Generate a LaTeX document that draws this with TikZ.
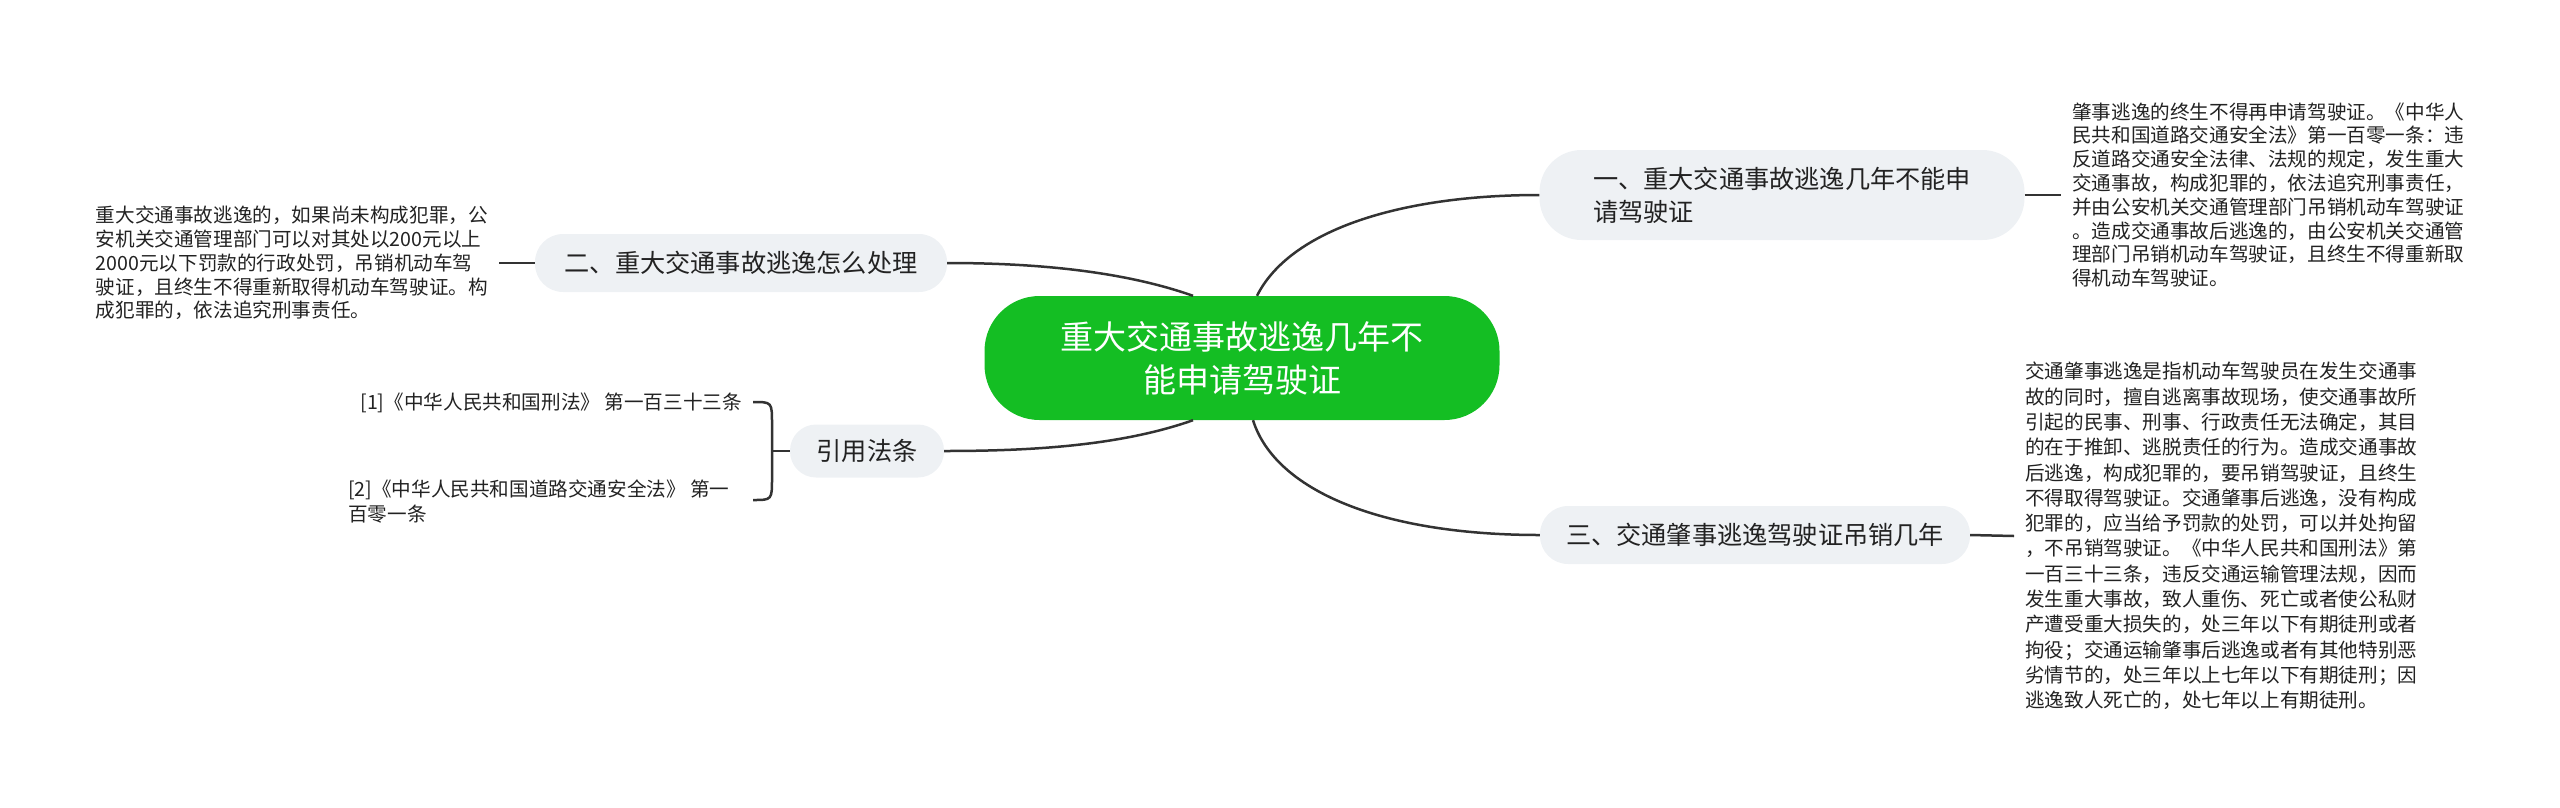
\documentclass[tikz,border=0pt]{standalone}
\usepackage{fontspec}
\setmainfont{Noto Sans CJK SC}
\usepackage{xcolor}
\usepackage{tikz}

\definecolor{rootgreen}{RGB}{20,190,35}
\definecolor{topicgray}{RGB}{238,241,244}
\definecolor{linkgray}{RGB}{51,51,51}
\definecolor{textgray}{RGB}{34,34,34}

\tikzset{
  root/.style={fill=rootgreen, text=white, rounded corners=55pt, minimum width=515pt,
    minimum height=124pt, align=center, font=\fontsize{33}{43}\selectfont},
  topic/.style={fill=topicgray, text=textgray, rounded corners=28pt, minimum height=58pt,
    align=left, font=\fontsize{25.2}{33}\selectfont},
  leaf/.style={text=textgray, align=left, inner xsep=11pt, inner ysep=0pt,
    font=\fontsize{19.6}{23.8}\selectfont},
  link/.style={draw=linkgray, line width=2.5pt},
}

\begin{document}
\begin{tikzpicture}[x=1pt,y=-1pt]
\useasboundingbox (0,0) rectangle (2560,807);

\node[root] (root) at (1242,358) {重大交通事故逃逸几年不\\能申请驾驶证};

\node[topic, rounded corners=42pt, minimum width=485pt, minimum height=90pt] (hd1) at (1782,195)
  {一、重大交通事故逃逸几年不能申\\请驾驶证};
\node[topic, minimum width=412pt] (hd2) at (741,263) {二、重大交通事故逃逸怎么处理};
\node[topic, minimum width=430pt] (hd3) at (1755,535) {三、交通肇事逃逸驾驶证吊销几年};
\node[topic, rounded corners=26pt, minimum width=154pt, minimum height=53pt] (refs) at (867,451) {引用法条};

\node[leaf, anchor=west] (txt1) at (2061,195) {肇事逃逸的终生不得再申请驾驶证。《中华人\\
民共和国道路交通安全法》第一百零一条：违\\
反道路交通安全法律、法规的规定，发生重大\\
交通事故，构成犯罪的，依法追究刑事责任，\\
并由公安机关交通管理部门吊销机动车驾驶证\\
。造成交通事故后逃逸的，由公安机关交通管\\
理部门吊销机动车驾驶证，且终生不得重新取\\
得机动车驾驶证。};

\node[leaf, anchor=east] (txt2) at (499,263) {重大交通事故逃逸的，如果尚未构成犯罪，公\\
安机关交通管理部门可以对其处以200元以上\\
2000元以下罚款的行政处罚，吊销机动车驾\\
驶证，且终生不得重新取得机动车驾驶证。构\\
成犯罪的，依法追究刑事责任。};

\node[leaf, anchor=west, font=\fontsize{19.6}{25.3}\selectfont] (txt3) at (2014,536) {交通肇事逃逸是指机动车驾驶员在发生交通事\\
故的同时，擅自逃离事故现场，使交通事故所\\
引起的民事、刑事、行政责任无法确定，其目\\
的在于推卸、逃脱责任的行为。造成交通事故\\
后逃逸，构成犯罪的，要吊销驾驶证，且终生\\
不得取得驾驶证。交通肇事后逃逸，没有构成\\
犯罪的，应当给予罚款的处罚，可以并处拘留\\
，不吊销驾驶证。《中华人民共和国刑法》第\\
一百三十三条，违反交通运输管理法规，因而\\
发生重大事故，致人重伤、死亡或者使公私财\\
产遭受重大损失的，处三年以下有期徒刑或者\\
拘役；交通运输肇事后逃逸或者有其他特别恶\\
劣情节的，处三年以上七年以下有期徒刑；因\\
逃逸致人死亡的，处七年以上有期徒刑。};

\node[leaf, anchor=east] (ref1) at (753,403) {[1]《中华人民共和国刑法》 第一百三十三条};
\node[leaf, anchor=west, font=\fontsize{19.6}{25}\selectfont] (ref2) at (337,502)
  {[2]《中华人民共和国道路交通安全法》 第一\\百零一条};

\coordinate (brtop) at (753,402);
\coordinate (brbot) at (753,500);
\coordinate (brmid) at (772,451);

\draw[link] ([xshift=15pt]root.north) .. controls (1290,230) and (1400,195) .. (hd1.west);
\draw[link] ([xshift=-49pt]root.north) .. controls (1120,270) and (1030,263) .. (hd2.east);
\draw[link] ([xshift=11pt]root.south) .. controls (1275,490) and (1380,535) .. (hd3.west);
\draw[link] ([xshift=-49pt]root.south) .. controls (1120,446) and (1030,451) .. (refs.west -| refs.east);

\draw[link] (hd1.east) -- (txt1.west);
\draw[link] (hd2.west) -- (txt2.east);
\draw[link] (hd3.east) -- (txt3.west);

\draw[link] (brtop) .. controls (772,402) .. (772,424) -- (772,478) .. controls (772,500) .. (brbot);
\draw[link] (brmid) -- (refs.west);
\end{tikzpicture}
\end{document}
